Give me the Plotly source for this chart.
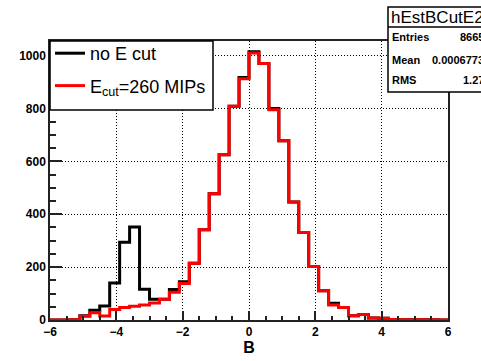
import plotly.graph_objects as go

# Bin edges of the histograms (40 bins from -6 to 6)
bin_edges = [-6.0, -5.7, -5.4, -5.1, -4.8, -4.5, -4.2, -3.9, -3.6, -3.3,
             -3.0, -2.7, -2.4, -2.1, -1.8, -1.5, -1.2, -0.9, -0.6, -0.3,
             0.0, 0.3, 0.6, 0.9, 1.2, 1.5, 1.8, 2.1, 2.4, 2.7,
             3.0, 3.3, 3.6, 3.9, 4.2, 4.5, 4.8, 5.1, 5.4, 5.7, 6.0]

# "no E cut" histogram (black)
no_cut = [0, 0, 1, 16, 37, 53, 140, 294, 352, 116,
          78, 78, 115, 145, 215, 341, 477, 625, 808, 917,
          1014, 970, 800, 678, 446, 331, 202, 111, 63, 47,
          16, 21, 8, 7, 2, 1, 1, 1, 1, 0]

# "E_cut = 260 MIPs" histogram (red)
ecut_260 = [0, 0, 1, 14, 27, 15, 40, 47, 52, 57,
            64, 78, 105, 138, 215, 341, 477, 625, 808, 912,
            1010, 970, 795, 678, 446, 331, 202, 111, 57, 47,
            16, 21, 8, 7, 2, 1, 1, 1, 1, 0]

legend_labels = ["no E cut", "E<sub>cut</sub>=260 MIPs"]
stats_title = "hEstBCutE2"
stats_names = ["Entries", "Mean", "RMS"]
stats_values = ["8665", "0.0006773", "1.27"]

W, H = 481, 361
ML, MR, MT, MB = 50, 33, 41, 41
PW, PH = W - ML - MR, H - MT - MB


def px(xp):
    return (xp - ML) / PW


def py(yp):
    return (H - MB - yp) / PH


fig = go.Figure()
fig.add_trace(go.Scatter(
    x=bin_edges, y=no_cut + [no_cut[-1]], mode="lines", line_shape="hv",
    line=dict(color="black", width=3), name=legend_labels[0],
    legendgroup="a"))
fig.add_trace(go.Scatter(
    x=bin_edges, y=ecut_260 + [ecut_260[-1]], mode="lines", line_shape="hv",
    line=dict(color="#ff0000", width=3), name=legend_labels[1],
    legendgroup="b"))

axis_common = dict(
    showline=True, linecolor="#222", linewidth=1.5, mirror=True,
    ticks="inside", tickcolor="#222", tickwidth=1.5,
    showgrid=True, gridcolor="black", gridwidth=1, griddash="1px,2px",
    zeroline=False, automargin=False,
    tickfont=dict(family="Liberation Sans", size=12, color="black", weight="bold"),
)

fig.update_xaxes(
    range=[-6, 6], tickmode="linear", tick0=-6, dtick=2, ticklen=9,
    minor=dict(dtick=0.5, ticklen=4, tickcolor="#222", tickwidth=1.5, ticks="inside", showgrid=False),
    title=dict(text="B", font=dict(family="Liberation Sans", size=16, color="black", weight="bold"), standoff=3),
    **axis_common)
fig.update_yaxes(
    range=[0, 1055], tickmode="linear", tick0=0, dtick=200, ticklen=12,
    minor=dict(dtick=50, ticklen=6, tickcolor="#222", tickwidth=1.5, ticks="inside", showgrid=False),
    **axis_common)

shapes = [
    # legend box
    dict(type="rect", xref="paper", yref="paper", x0=px(50), x1=px(213), y0=py(110), y1=py(41),
         line=dict(color="black", width=1.5), fillcolor="white", layer="above"),
    # stats box
    dict(type="rect", xref="paper", yref="paper", x0=px(388), x1=px(495), y0=py(92), y1=py(7),
         line=dict(color="black", width=1.5), fillcolor="white", layer="above"),
    dict(type="line", xref="paper", yref="paper", x0=px(388), x1=px(495), y0=py(27), y1=py(27),
         line=dict(color="black", width=1.5), layer="above"),
]
annotations = [
    dict(xref="paper", yref="paper", x=px(389), y=py(17), text=stats_title, showarrow=False,
         xanchor="left", yanchor="middle", font=dict(family="Liberation Sans", size=17, color="black")),
]
for i, (n, v) in enumerate(zip(stats_names, stats_values)):
    yy = [37, 60, 80][i]
    annotations.append(dict(xref="paper", yref="paper", x=px(390), y=py(yy), text=n, showarrow=False,
                            xanchor="left", yanchor="middle",
                            font=dict(family="Liberation Sans", size=11, color="black", weight="bold")))
    annotations.append(dict(xref="paper", yref="paper", x=px(486), y=py(yy), text=v, showarrow=False,
                            xanchor="right", yanchor="middle",
                            font=dict(family="Liberation Sans", size=11, color="black", weight="bold")))

fig.update_layout(
    width=W, height=H, margin=dict(l=ML, r=MR, t=MT, b=MB, autoexpand=False),
    paper_bgcolor="white", plot_bgcolor="white",
    showlegend=True,
    legend=dict(x=0, y=py(35), xanchor="left", yanchor="top", bgcolor="rgba(0,0,0,0)",
                borderwidth=0, tracegroupgap=6,
                font=dict(family="Liberation Sans", size=18, color="black")),
    shapes=shapes, annotations=annotations,
)

fig.write_html("out.html")
